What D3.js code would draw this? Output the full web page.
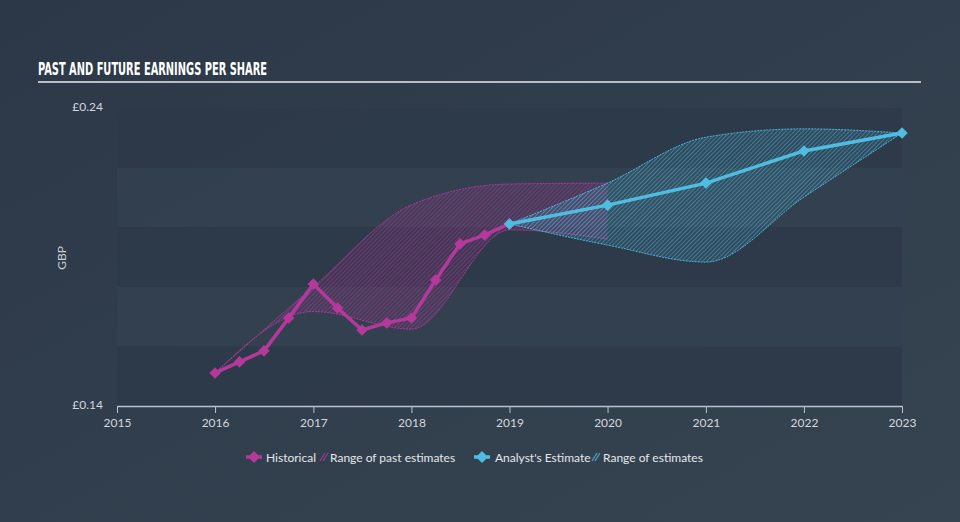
<!DOCTYPE html>
<html>
<head>
<meta charset="utf-8">
<script src="https://cdn.jsdelivr.net/npm/d3@7"></script>
<style>
  body { margin: 0; background: #323f4e; }
  svg { display: block; }
</style>
</head>
<body>
<svg id="chart" width="960" height="522"></svg>
<script>
// historical EPS (quarterly)
const histDates = ["2016-01-01","2016-04-01","2016-07-01","2016-10-01","2017-01-01","2017-04-01","2017-07-01","2017-10-01","2018-01-01","2018-04-01","2018-07-01","2018-10-01","2019-01-01"];
const histValues = [0.1511, 0.1548, 0.1585, 0.1695, 0.1809, 0.1729, 0.1655, 0.1679, 0.1695, 0.1823, 0.1944, 0.1974, 0.2011];
// range of past estimates
const pastDates = ["2016-01-01","2017-01-01","2018-01-01","2019-01-01","2020-01-01"];
const pastHigh = [0.1511, 0.1800, 0.2075, 0.2145, 0.2148];
const pastLow = [0.1511, 0.1717, 0.1658, 0.1991, 0.1960];
// analyst estimates
const estDates = ["2019-01-01","2020-01-01","2021-01-01","2022-01-01","2023-01-01"];
const estValues = [0.2011, 0.2074, 0.2148, 0.2256, 0.2316];
const estHigh = [0.2011, 0.2148, 0.2302, 0.2330, 0.2316];
const estLow = [0.2011, 0.1940, 0.1883, 0.2101, 0.2316];
const yTicks = [0.14, 0.24];
const xTickYears = [2015, 2016, 2017, 2018, 2019, 2020, 2021, 2022, 2023];

const pinkC = "#b5399b";
const blueC = "#4fbde2";

function main() {
    const svg = d3.select("svg#chart");
    const parse = d3.timeParse("%Y-%m-%d");

    // background gradient
    const defs = svg.append("defs");
    const grad = defs.append("linearGradient").attr("id", "bg")
        .attr("x1", "0%").attr("y1", "0%").attr("x2", "100%").attr("y2", "100%");
    grad.append("stop").attr("offset", "0%").attr("stop-color", "#2c3847");
    grad.append("stop").attr("offset", "100%").attr("stop-color", "#364452");
    svg.append("rect").attr("width", 960).attr("height", 522).attr("fill", "url(#bg)");

    makeHatch(defs, "hatchPink", pinkC);
    makeHatch(defs, "hatchBlue", blueC);

    const x = d3.scaleTime()
        .domain([new Date(2015, 0, 1), new Date(2023, 0, 1)])
        .range([117, 902]);
    const y = d3.scaleLinear().domain([0.14, 0.24]).range([406, 108]);

    // alternating bands
    const bandStarts = d3.range(0.14, 0.2399, 0.02);
    svg.selectAll("rect.band").data(bandStarts).enter().append("rect")
        .attr("class", "band")
        .attr("x", x.range()[0])
        .attr("width", x.range()[1] - x.range()[0])
        .attr("y", d => y(d + 0.02))
        .attr("height", d => y(d) - y(d + 0.02))
        .attr("fill", (d, i) => i % 2 === 0 ? "#2e3a49" : "#334050")
        .attr("opacity", 0.9);

    // title
    svg.append("text").text("PAST AND FUTURE EARNINGS PER SHARE")
        .attr("x", 38).attr("y", 75)
        .attr("font-family", "'Liberation Sans Narrow', 'DejaVu Sans Condensed', sans-serif")
        .attr("font-weight", "bold")
        .attr("font-size", 18)
        .attr("textLength", 229)
        .attr("lengthAdjust", "spacingAndGlyphs")
        .attr("fill", "#ffffff");
    svg.append("line")
        .attr("x1", 38).attr("x2", 921).attr("y1", 82).attr("y2", 82)
        .attr("stroke", "#b9bec4").attr("stroke-width", 2);

    // ranges
    const area = d3.area().curve(d3.curveMonotoneX)
        .x(d => x(d.date)).y0(d => y(d.lo)).y1(d => y(d.hi));
    const lineHi = d3.line().curve(d3.curveMonotoneX).x(d => x(d.date)).y(d => y(d.hi));
    const lineLo = d3.line().curve(d3.curveMonotoneX).x(d => x(d.date)).y(d => y(d.lo));

    const pastRange = pastDates.map((d, i) => ({date: parse(d), hi: pastHigh[i], lo: pastLow[i]}));
    const estRange = estDates.map((d, i) => ({date: parse(d), hi: estHigh[i], lo: estLow[i]}));

    drawRange(svg, pastRange, area, lineHi, lineLo, "hatchPink", pinkC);
    drawRange(svg, estRange, area, lineHi, lineLo, "hatchBlue", blueC);

    // lines
    const hist = histDates.map((d, i) => ({date: parse(d), v: histValues[i]}));
    const est = estDates.map((d, i) => ({date: parse(d), v: estValues[i]}));
    drawSeries(svg, hist, x, y, pinkC);
    drawSeries(svg, est, x, y, blueC);

    // axes
    const xAxis = d3.axisBottom(x)
        .tickValues(xTickYears.map(yr => new Date(yr, 0, 1)))
        .tickFormat(d3.timeFormat("%Y"))
        .tickSize(7).tickSizeOuter(0);
    const gx = svg.append("g").attr("transform", "translate(0,406)").call(xAxis);
    gx.select(".domain").attr("stroke", "#b7c3cf").attr("stroke-width", 1.5);
    gx.selectAll(".tick line").attr("stroke", "#b7c3cf");
    gx.selectAll(".tick text")
        .attr("fill", "#d3d8dd")
        .attr("font-family", "Lato, 'Open Sans', sans-serif")
        .attr("font-size", 12)
        .attr("dy", "0.9em");

    svg.selectAll("text.ytick").data(yTicks).enter().append("text")
        .attr("class", "ytick")
        .text(d => "£" + d.toFixed(2))
        .attr("x", 103).attr("y", d => y(d) + 3)
        .attr("text-anchor", "end")
        .attr("font-family", "Lato, 'Open Sans', sans-serif")
        .attr("font-size", 12)
        .attr("fill", "#d3d8dd");

    svg.append("text").text("GBP")
        .attr("transform", "translate(66,258) rotate(-90)")
        .attr("text-anchor", "middle")
        .attr("font-family", "Lato, 'Open Sans', sans-serif")
        .attr("font-size", 12)
        .attr("fill", "#c9cfd5");

    drawLegend(svg);
}

function makeHatch(defs, id, color) {
    const p = defs.append("pattern").attr("id", id)
        .attr("patternUnits", "userSpaceOnUse")
        .attr("width", 3).attr("height", 3)
        .attr("patternTransform", "rotate(45)");
    p.append("line").attr("x1", 0).attr("y1", 0).attr("x2", 0).attr("y2", 3)
        .attr("stroke", color).attr("stroke-width", 1.2).attr("opacity", 0.75);
}

function drawRange(svg, data, area, lineHi, lineLo, hatch, color) {
    svg.append("path").datum(data).attr("d", area)
        .attr("fill", color).attr("opacity", 0.12);
    svg.append("path").datum(data).attr("d", area)
        .attr("fill", "url(#" + hatch + ")");
    [lineHi, lineLo].forEach(l => {
        svg.append("path").datum(data).attr("d", l)
            .attr("fill", "none").attr("stroke", color)
            .attr("stroke-width", 1).attr("stroke-dasharray", "2,1").attr("opacity", 0.9);
    });
}

function drawSeries(svg, data, x, y, color) {
    const line = d3.line().x(d => x(d.date)).y(d => y(d.v));
    svg.append("path").datum(data).attr("d", line)
        .attr("fill", "none").attr("stroke", color)
        .attr("stroke-width", 3.5).attr("stroke-linejoin", "round");
    svg.selectAll(null).data(data).enter().append("path")
        .attr("d", d3.symbol().type(d3.symbolDiamond2).size(85))
        .attr("transform", d => "translate(" + x(d.date) + "," + y(d.v) + ")")
        .attr("fill", color);
}

function drawLegend(svg) {
    const g = svg.append("g").attr("font-family", "Lato, 'Open Sans', sans-serif")
        .attr("font-size", 12).attr("fill", "#e4e7ea");
    const items = [
        {kind: "marker", color: pinkC, x: 254},
        {kind: "text", text: "Historical", x: 266},
        {kind: "hatch", color: pinkC, x: 320},
        {kind: "text", text: "Range of past estimates", x: 330},
        {kind: "marker", color: blueC, x: 482},
        {kind: "text", text: "Analyst's Estimate", x: 495},
        {kind: "hatch", color: blueC, x: 592},
        {kind: "text", text: "Range of estimates", x: 603}
    ];
    items.forEach(it => {
        if (it.kind === "marker") {
            g.append("line").attr("x1", it.x - 8).attr("x2", it.x + 8)
                .attr("y1", 457).attr("y2", 457)
                .attr("stroke", it.color).attr("stroke-width", 3.5);
            g.append("path").attr("d", d3.symbol().type(d3.symbolDiamond2).size(90))
                .attr("transform", "translate(" + it.x + ",457)").attr("fill", it.color);
        } else if (it.kind === "hatch") {
            [0, 3].forEach(o => {
                g.append("line").attr("x1", it.x + o).attr("y1", 461)
                    .attr("x2", it.x + o + 5).attr("y2", 453)
                    .attr("stroke", it.color).attr("stroke-width", 1.3).attr("opacity", 0.8);
            });
        } else {
            g.append("text").text(it.text).attr("x", it.x).attr("y", 461.5);
        }
    });
}

main()
</script>
</body>
</html>
